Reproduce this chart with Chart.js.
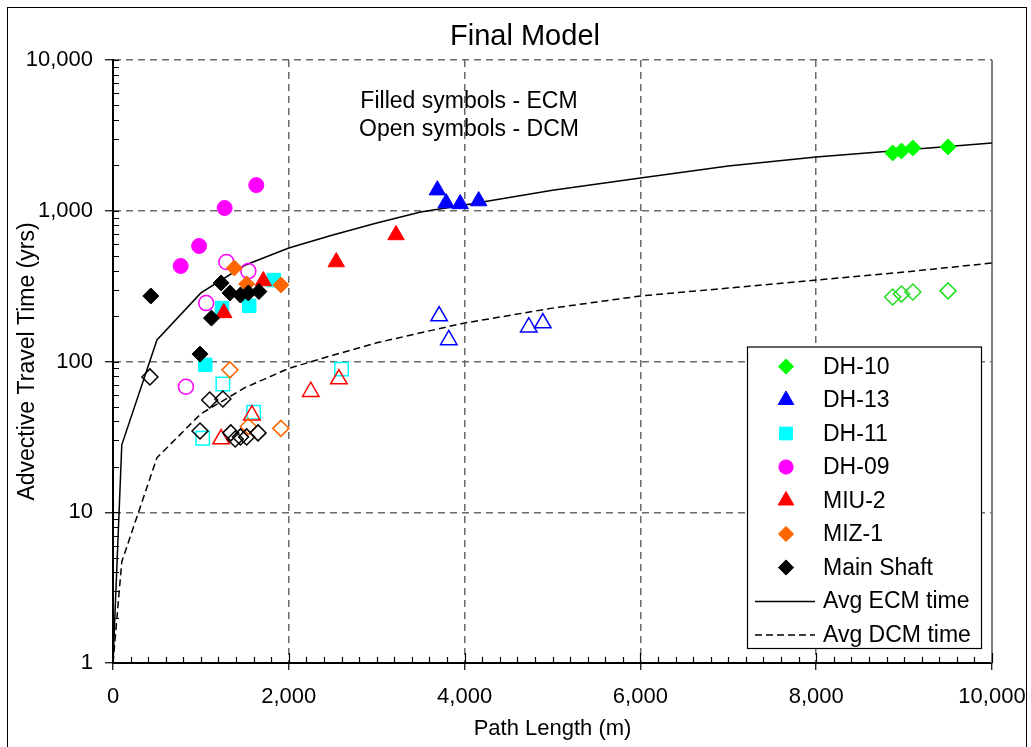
<!DOCTYPE html>
<html>
<head>
<meta charset="utf-8">
<title>Final Model</title>
<script src="https://cdn.jsdelivr.net/npm/chart.js@4.4.1/dist/chart.umd.min.js"></script>
<style>
  html, body { margin: 0; padding: 0; background: #fff; overflow: hidden; }
  #wrap { position: relative; width: 1031px; height: 747px; }
  #frame { position: absolute; left: 7px; top: 7px; width: 1018px; height: 760px; border: 1.5px solid #000; pointer-events: none; }
</style>
</head>
<body>
<div id="wrap">
  <canvas id="chartFinalModel" width="1031" height="747"></canvas>
  <div id="frame"></div>
</div>
<script>
'use strict';

// ---- data ----
var xMajorTicks = [0, 2000, 4000, 6000, 8000, 10000];
var yMajorTicks = [1, 10, 100, 1000, 10000];

// filled symbols = ECM, open symbols = DCM
var dh10EcmX = [8870, 8970, 9100, 9500];
var dh10EcmY = [2420, 2490, 2610, 2650];
var dh10DcmX = [8870, 8970, 9100, 9500];
var dh10DcmY = [268, 280, 289, 294];

var dh13EcmX = [3690, 3790, 3950, 4160];
var dh13EcmY = [1370, 1125, 1110, 1160];
var dh13DcmX = [3710, 3820, 4730, 4890];
var dh13DcmY = [200, 139, 169, 180];

var dh11EcmX = [1050, 1240, 1550, 1830];
var dh11EcmY = [95, 226, 234, 347];
var dh11DcmX = [1020, 1250, 1600, 2600];
var dh11DcmY = [31, 71, 46, 89];

var dh09EcmX = [770, 980, 1270, 1630];
var dh09EcmY = [430, 584, 1043, 1480];
var dh09DcmX = [830, 1060, 1290, 1540];
var dh09DcmY = [68, 244, 457, 398];

var miu2EcmX = [1260, 1710, 2540, 3220];
var miu2EcmY = [210, 342, 457, 691];
var miu2DcmX = [1230, 1580, 2250, 2570];
var miu2DcmY = [30.6, 44, 63, 76.5];

var miz1EcmX = [1380, 1520, 1910];
var miz1EcmY = [417, 327, 322];
var miz1DcmX = [1330, 1540, 1910];
var miz1DcmY = [88, 37, 36];

var shaftEcmX = [430, 990, 1120, 1230, 1330, 1450, 1540, 1660];
var shaftEcmY = [272, 112, 194, 332, 285, 276, 285, 291];
var shaftDcmX = [420, 990, 1100, 1250, 1340, 1390, 1450, 1520, 1650];
var shaftDcmY = [79, 34.6, 55.5, 56.4, 33.6, 30.6, 31.6, 31.6, 33.6];

var avgX    = [0, 100, 500, 1000, 1500, 2000, 2500, 3000, 3500, 4000, 5000, 6000, 7000, 8000, 9000, 10000];
var avgEcmY = [1, 28, 139, 285, 435, 566, 690, 830, 980, 1090, 1370, 1650, 1980, 2275, 2530, 2815];
var avgDcmY = [1, 4.7, 23, 45, 67, 90, 110, 133, 155, 180, 226, 272, 307, 347, 392, 450];

var FONT = '"Liberation Sans", Arial, sans-serif';
var GRID = '#6a6a6a';
var CLEAR = 'rgba(0,0,0,0)';

function pts(xs, ys) {
    return xs.map(function (x, i) { return { x: x, y: ys[i] }; });
}

function markerSet(label, xs, ys, color, style, radius, filled, order) {
    return {
        label: label,
        data: pts(xs, ys),
        pointStyle: style,
        pointRadius: radius,
        pointHoverRadius: radius,
        pointBackgroundColor: filled ? color : CLEAR,
        pointBorderColor: color,
        pointBorderWidth: filled ? 1 : 1.5,
        showLine: false,
        order: order,
        inLegend: filled
    };
}

function lineSet(label, ys, dash, order) {
    return {
        label: label,
        data: pts(avgX, ys),
        showLine: true,
        borderColor: '#000',
        borderWidth: 1.5,
        borderDash: dash,
        pointRadius: 0,
        pointHoverRadius: 0,
        tension: 0,
        order: order,
        inLegend: true
    };
}

var fmt = function (v) { return Number(v).toLocaleString('en-US'); };

// keep the plot area where the reference has it (labels may overhang)
function noOverhang(scale) {
    scale.paddingLeft = 0;
    scale.paddingRight = 0;
    scale.paddingTop = 0;
    scale.paddingBottom = 0;
}

// ---- extra drawing: plot frame, minor ticks, title, note, legend ----
var overlayPlugin = {
    id: 'overlay',
    beforeDatasetsDraw: function (chart) {
        var ctx = chart.ctx, area = chart.chartArea;
        var xs = chart.scales.x, ys = chart.scales.y;
        ctx.save();
        ctx.strokeStyle = '#808080';
        ctx.lineWidth = 2;
        ctx.beginPath();
        ctx.moveTo(area.right, area.top);
        ctx.lineTo(area.right, area.bottom);
        ctx.stroke();

        ctx.strokeStyle = '#000';
        ctx.lineWidth = 1.2;
        ctx.beginPath();
        // x: minor ticks every 200 pointing up, majors a bit longer
        for (var v = 0; v <= 10000; v += 200) {
            var px = Math.round(xs.getPixelForValue(v)) + 0.5;
            var len = (v % 2000 === 0) ? 10 : 6;
            ctx.moveTo(px, area.bottom);
            ctx.lineTo(px, area.bottom - len);
        }
        // y: minor ticks 2..9 in every decade, pointing right
        for (var d = 0; d < yMajorTicks.length; d++) {
            var base = yMajorTicks[d];
            for (var m = 1; m <= 9; m++) {
                if (base * m > 10000) break;
                var py = Math.round(ys.getPixelForValue(base * m)) + 0.5;
                ctx.moveTo(area.left, py);
                ctx.lineTo(area.left + 6, py);
            }
        }
        ctx.stroke();
        ctx.restore();
    },
    afterDraw: function (chart) {
        var ctx = chart.ctx, area = chart.chartArea;
        ctx.save();
        ctx.fillStyle = '#000';
        ctx.textBaseline = 'middle';

        // chart title
        ctx.font = '29px ' + FONT;
        ctx.textAlign = 'center';
        ctx.fillText('Final Model', 525, 37);

        // note
        ctx.font = '23px ' + FONT;
        ctx.fillText('Filled symbols - ECM', 469, 102);
        ctx.fillText('Open symbols - DCM', 469, 130);

        // legend box
        var rowH = 33.5, boxW = 234;
        var items = chart.data.datasets.filter(function (ds) { return ds.inLegend; });
        var boxH = items.length * rowH;
        var left = area.right - 11 - boxW;
        var top = area.bottom - 15 - boxH;
        ctx.fillStyle = '#fff';
        ctx.fillRect(left, top, boxW, boxH);
        ctx.strokeStyle = '#000';
        ctx.lineWidth = 1.2;
        ctx.strokeRect(left + 0.5, top + 0.5, boxW, boxH);

        ctx.textAlign = 'left';
        ctx.font = '23px ' + FONT;
        items.forEach(function (ds, i) {
            var cy = top + 20 + i * rowH;
            if (ds.showLine) {
                ctx.save();
                ctx.strokeStyle = ds.borderColor;
                ctx.lineWidth = ds.borderWidth;
                ctx.setLineDash(ds.borderDash || []);
                ctx.beginPath();
                ctx.moveTo(left + 8, cy + 0.5);
                ctx.lineTo(left + 68, cy + 0.5);
                ctx.stroke();
                ctx.restore();
            } else {
                ctx.save();
                ctx.fillStyle = ds.pointBackgroundColor;
                ctx.strokeStyle = ds.pointBorderColor;
                ctx.lineWidth = ds.pointBorderWidth;
                Chart.helpers.drawPoint(ctx, {
                    pointStyle: ds.pointStyle,
                    radius: ds.pointRadius * 0.95,
                    rotation: 0,
                    borderWidth: ds.pointBorderWidth
                }, left + 39, cy);
                ctx.restore();
            }
            ctx.fillStyle = '#000';
            ctx.fillText(ds.label, left + 76, cy + 1);
        });
        ctx.restore();
    }
};

var datasets = [
    markerSet('DH-10', dh10EcmX, dh10EcmY, '#00ff00', 'rectRot', 8, true, 20),
    markerSet('DH-13', dh13EcmX, dh13EcmY, '#0000ff', 'triangle', 9.5, true, 19),
    markerSet('DH-11', dh11EcmX, dh11EcmY, '#00ffff', 'rect', 9.5, true, 18),
    markerSet('DH-09', dh09EcmX, dh09EcmY, '#ff00ff', 'circle', 7.5, true, 17),
    markerSet('MIU-2', miu2EcmX, miu2EcmY, '#ff0000', 'triangle', 9.5, true, 16),
    markerSet('MIZ-1', miz1EcmX, miz1EcmY, '#ff6600', 'rectRot', 8, true, 15),
    markerSet('Main Shaft', shaftEcmX, shaftEcmY, '#000000', 'rectRot', 8, true, 14),
    lineSet('Avg ECM time', avgEcmY, [], 101),
    lineSet('Avg DCM time', avgDcmY, [7, 4], 100),
    markerSet('DH-10 DCM', dh10DcmX, dh10DcmY, '#22dd22', 'rectRot', 8, false, 30),
    markerSet('DH-13 DCM', dh13DcmX, dh13DcmY, '#0000ff', 'triangle', 9.5, false, 29),
    markerSet('DH-11 DCM', dh11DcmX, dh11DcmY, '#00ffff', 'rect', 9.5, false, 28),
    markerSet('DH-09 DCM', dh09DcmX, dh09DcmY, '#ff00ff', 'circle', 7.5, false, 27),
    markerSet('MIU-2 DCM', miu2DcmX, miu2DcmY, '#ff0000', 'triangle', 9.5, false, 26),
    markerSet('MIZ-1 DCM', miz1DcmX, miz1DcmY, '#ff6600', 'rectRot', 8, false, 25),
    markerSet('Main Shaft DCM', shaftDcmX, shaftDcmY, '#000000', 'rectRot', 8, false, 24)
];

var chartFinalModel = new Chart(document.getElementById('chartFinalModel').getContext('2d'), {
    type: 'scatter',
    data: { datasets: datasets },
    plugins: [overlayPlugin],
    options: {
        responsive: false,
        animation: false,
        devicePixelRatio: 1,
        layout: { padding: { left: 7, right: 39, top: 60, bottom: 0 } },
        plugins: {
            legend: { display: false },
            title: { display: false },
            tooltip: { enabled: false }
        },
        scales: {
            x: {
                type: 'linear',
                min: 0,
                max: 10000,
                afterBuildTicks: function (scale) {
                    scale.ticks = xMajorTicks.map(function (v) { return { value: v }; });
                },
                afterFit: function (scale) { scale.height = 84; noOverhang(scale); },
                ticks: {
                    callback: fmt,
                    color: '#000',
                    font: { family: FONT, size: 22 },
                    padding: 14,
                    maxRotation: 0,
                    autoSkip: false
                },
                grid: {
                    color: function (c) {
                        return c.tick && c.tick.value > 0 && c.tick.value < 10000 ? GRID : CLEAR;
                    },
                    lineWidth: 1.5,
                    tickLength: 7,
                    tickColor: '#000',
                    tickWidth: 1.2
                },
                border: { color: '#000', width: 2, dash: [7, 5] },
                title: {
                    display: true,
                    text: 'Path Length (m)',
                    color: '#000',
                    font: { family: FONT, size: 22 },
                    padding: { top: 0, bottom: 5 }
                }
            },
            y: {
                type: 'logarithmic',
                min: 1,
                max: 10000,
                afterBuildTicks: function (scale) {
                    scale.ticks = yMajorTicks.map(function (v) { return { value: v }; });
                },
                afterFit: function (scale) { scale.width = 106; noOverhang(scale); },
                ticks: {
                    callback: fmt,
                    color: '#000',
                    font: { family: FONT, size: 22 },
                    padding: 12
                },
                grid: {
                    color: function (c) {
                        return c.tick && c.tick.value > 1 ? GRID : CLEAR;
                    },
                    lineWidth: 1.5,
                    tickLength: 8,
                    tickColor: '#000',
                    tickWidth: 1.2
                },
                border: { color: '#000', width: 2, dash: [7, 5] },
                title: {
                    display: true,
                    text: 'Advective Travel Time (yrs)',
                    color: '#000',
                    font: { family: FONT, size: 23 },
                    padding: { top: 7, bottom: 0 }
                }
            }
        }
    }
});
</script>
</body>
</html>
